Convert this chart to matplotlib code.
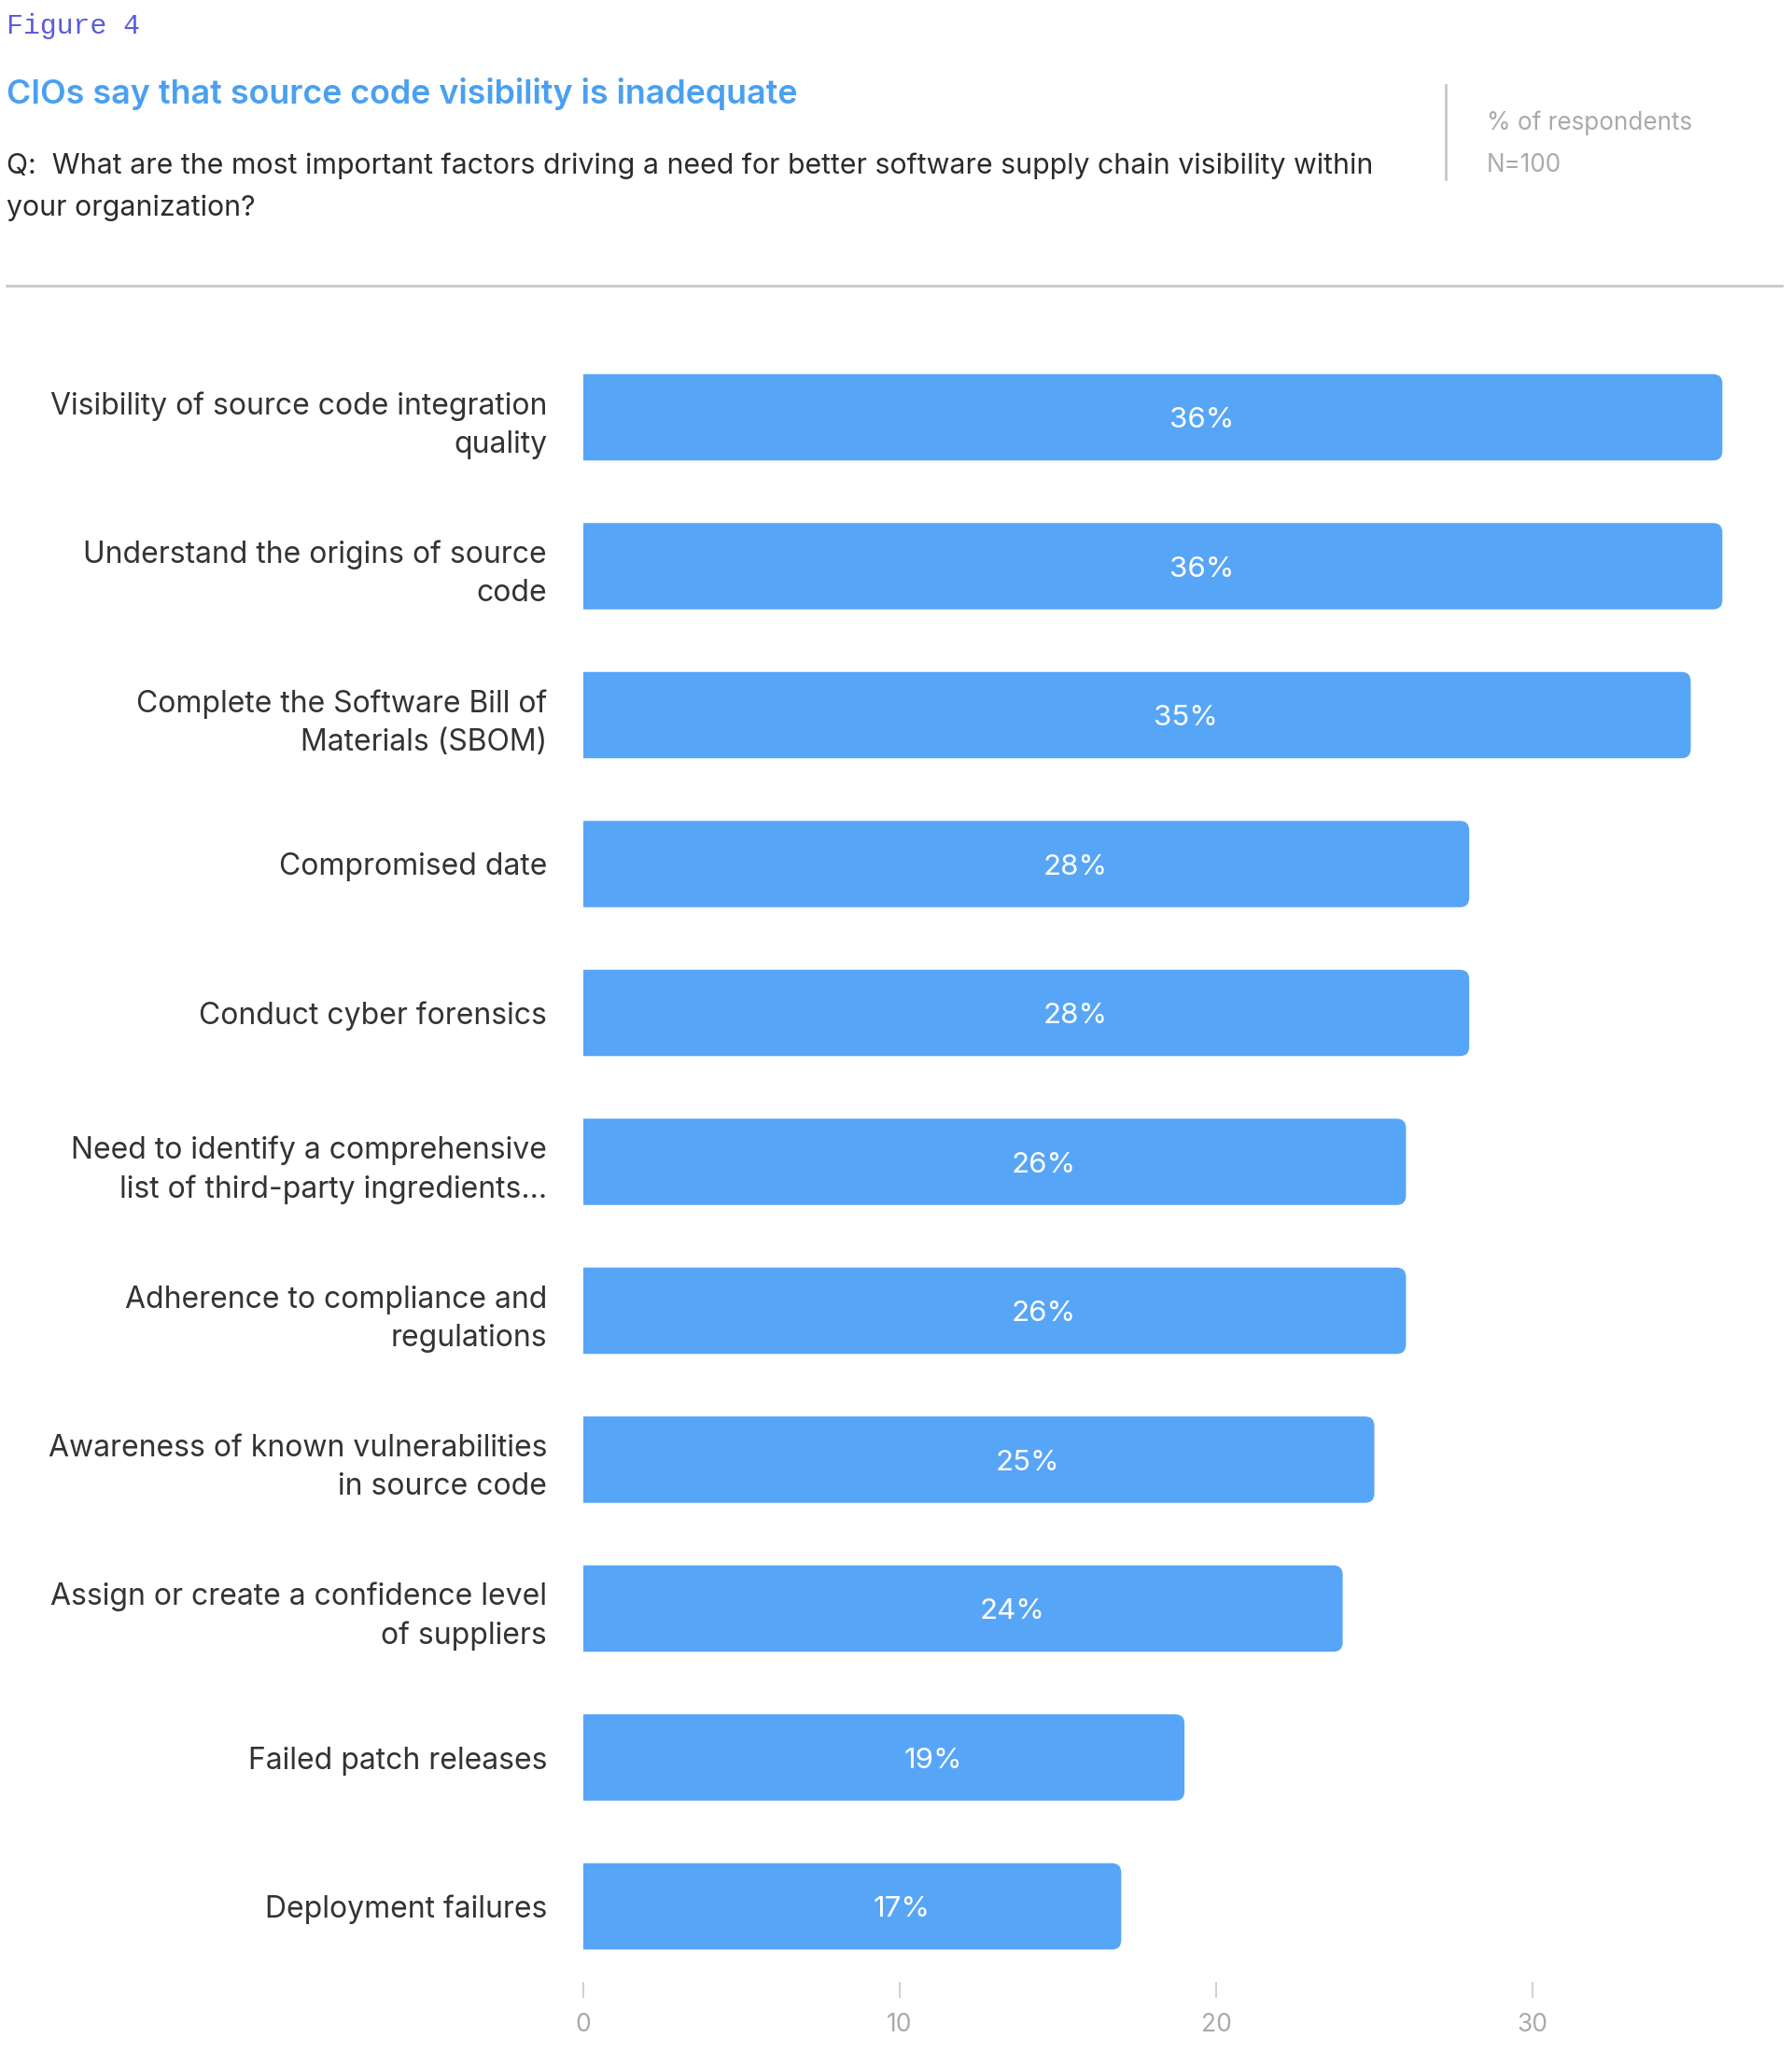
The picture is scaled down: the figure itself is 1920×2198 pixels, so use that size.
import matplotlib.pyplot as plt
from matplotlib.patches import FancyBboxPatch
import numpy as np

plt.rcParams['font.family'] = ['Inter', 'DejaVu Sans']

labels = [
    "Visibility of source code integration\nquality",
    "Understand the origins of source\ncode",
    "Complete the Software Bill of\nMaterials (SBOM)",
    "Compromised date",
    "Conduct cyber forensics",
    "Need to identify a comprehensive\nlist of third-party ingredients...",
    "Adherence to compliance and\nregulations",
    "Awareness of known vulnerabilities\nin source code",
    "Assign or create a confidence level\nof suppliers",
    "Failed patch releases",
    "Deployment failures",
]
values = [36, 36, 35, 28, 28, 26, 26, 25, 24, 19, 17]
ticks = [0, 10, 20, 30]

W, H = 1920, 2198
fig = plt.figure(figsize=(W / 100, H / 100), dpi=100)

def fx(px):
    return px / W

def fy(py):
    return 1 - py / H

# header
fig.text(fx(7), fy(28), "Figure 4", family="Liberation Mono", fontsize=21.5,
         color="#5b5bd9", va="center", ha="left")
fig.text(fx(7), fy(100), "CIOs say that source code visibility is inadequate",
         fontsize=25.8, color="#4aa0f0", fontweight="semibold", va="center", ha="left")
fig.text(fx(7), fy(178), "Q:  What are the most important factors driving a need for better software supply chain visibility within",
         fontsize=21.8, color="#2b2b2b", va="center", ha="left")
fig.text(fx(7), fy(223), "your organization?", fontsize=21.8, color="#2b2b2b",
         va="center", ha="left")
fig.text(fx(1593), fy(132), "% of respondents", fontsize=18.8, color="#aaaaaa",
         va="center", ha="left")
fig.text(fx(1593), fy(177), "N=100", fontsize=18.8, color="#aaaaaa",
         va="center", ha="left")
fig.add_artist(plt.Line2D([fx(1549), fx(1549)], [fy(91), fy(192)],
                          color="#c8c8c8", lw=2))
fig.add_artist(plt.Line2D([fx(7), fx(1909)], [fy(306), fy(306)],
                          color="#c8c8c8", lw=2))

# chart
ax = fig.add_axes([fx(625), fy(2123), fx(1900) - fx(625), fy(380) - fy(2123)])
y = np.arange(len(values))
bars = ax.barh(y, values, height=0.58, color="#57a5f7")

# round the right end of each bar (left end is clipped at x=0)
px_x, px_y = 33.9, 159.5
r = 10 / px_x
for b in list(bars):
    x0, y0, w, h = b.get_x(), b.get_y(), b.get_width(), b.get_height()
    b.remove()
    ax.add_patch(FancyBboxPatch((x0 - 1, y0), w + 1, h,
                                boxstyle=f"round,pad=0,rounding_size={r}",
                                mutation_aspect=px_x / px_y,
                                fc="#57a5f7", ec="none"))

for yi, v in zip(y, values):
    ax.text(v / 2 + 1.55, yi + 0.02, f"{v}%", color="white", fontsize=22.5,
            ha="center", va="center")

ax.set_xlim(0, (1900 - 625) / px_x)
ax.set_ylim(10 + (2123 - 2042) / px_y, -(447 - 380) / px_y)
ax.set_yticks(y)
ax.set_yticklabels(labels, fontsize=23, color="#333333", linespacing=1.42)
ax.tick_params(axis="y", length=0, pad=28)
ax.set_xticks(ticks)
ax.tick_params(axis="x", length=12, width=1.2, color="#c8c8c8",
               labelcolor="#aaaaaa", labelsize=19, pad=12)
for s in ax.spines.values():
    s.set_visible(False)

fig.savefig("out.png", dpi=100)
